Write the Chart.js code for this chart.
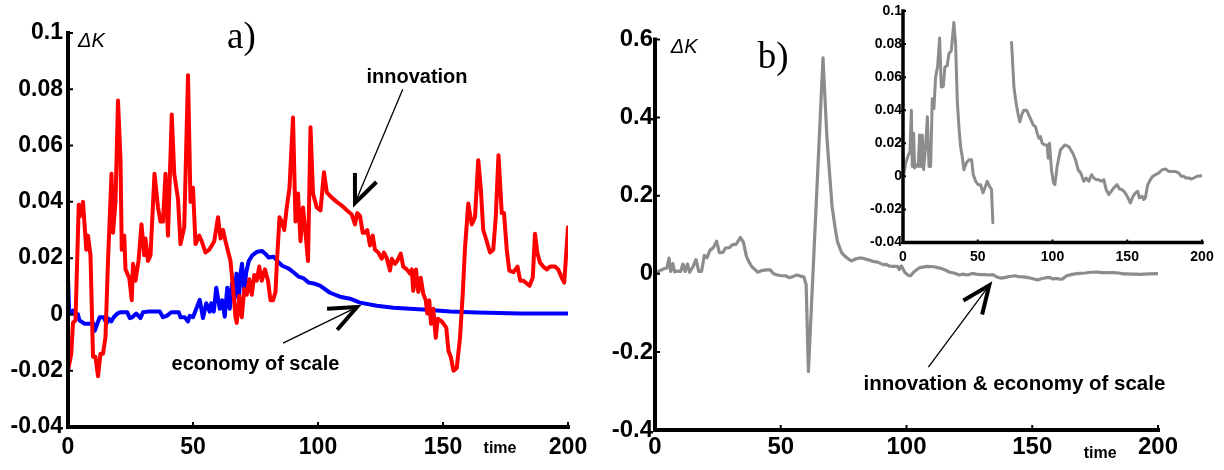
<!DOCTYPE html>
<html>
<head>
<meta charset="utf-8">
<script src="https://cdn.jsdelivr.net/npm/chart.js@4.4.1/dist/chart.umd.min.js"></script>
<style>
  html, body { margin: 0; padding: 0; background: #fff; }
  #wrap { position: relative; width: 1224px; height: 470px; overflow: hidden; }
  canvas { position: absolute; }
</style>
</head>
<body>
<div id="wrap">
  <canvas id="chartA" width="600" height="470" style="left:0;top:0"></canvas>
  <canvas id="chartB" width="624" height="470" style="left:600px;top:0"></canvas>
  <canvas id="chartInset" width="364" height="270" style="left:860px;top:0"></canvas>
</div>
<script>
// panel a) innovation (red)
const innovationTime = [0, 1.3, 2, 3, 4.3, 5, 6, 7.3, 8, 9, 10, 11, 12, 13, 14, 15, 16, 17.4, 18, 19, 20, 21, 21.5, 22.5, 23, 24.5, 25.5, 26, 27, 28.2, 29.4, 30.5, 31, 32, 33, 34.6, 36, 37, 38, 39, 40, 41.5, 42.5, 44, 45, 46.5, 48, 49, 50, 51, 52.5, 53.5, 55, 56.5, 58.5, 60, 61, 62, 63, 65, 66, 67, 67.5, 68.5, 69.5, 70.5, 71.5, 72.5, 73.5, 74.5, 75.5, 76.5, 77.5, 78.8, 80, 81, 82, 83, 83.6, 84.6, 85.5, 86.5, 87.5, 88.6, 90, 91, 92, 93, 94, 95, 96, 97, 98, 99.5, 101, 102.4, 103.5, 105.5, 107.5, 109.5, 111.5, 113.5, 114.8, 115.7, 116.8, 117.9, 118.8, 119.7, 120.8, 121.9, 122.8, 124.1, 125.5, 126.4, 127.5, 128.8, 129.5, 130.8, 131.7, 133.1, 134.1, 135.5, 136.8, 137.5, 138.1, 139.2, 140.1, 141.1, 142.1, 143.1, 143.7, 144.5, 145.2, 146.1, 147.1, 147.9, 149.5, 151.3, 152.2, 153.1, 154.2, 155.5, 156.8, 157.9, 158.8, 160.1, 161.5, 162.8, 164.1, 165.1, 166.1, 167.5, 168.8, 170.1, 171.1, 172.2, 173.5, 174.4, 175.5, 176.5, 178.2, 179.8, 180.9, 182.2, 183.5, 184.6, 185.9, 186.8, 187.7, 188.8, 190.1, 191.5, 192.8, 194.8, 196.1, 197.5, 198.5, 200];
const innovationValue = [-0.02, -0.014, -0.003, -0.002, 0.039, 0.035, 0.04, 0.023, 0.028, 0.021, -0.015, -0.015, -0.022, -0.014, -0.014, -0.008, 0.019, 0.05, 0.029, 0.04, 0.076, 0.055, 0.023, 0.028, 0.016, 0.013, 0.005, 0.018, 0.012, 0.019, 0.032, 0.021, 0.027, 0.019, 0.021, 0.05, 0.038, 0.033, 0.033, 0.05, 0.028, 0.071, 0.05, 0.041, 0.025, 0.031, 0.085, 0.04, 0.045, 0.025, 0.028, 0.026, 0.022, 0.023, 0.026, 0.0345, 0.027, 0.03, 0.026, 0.019, 0.0095, -0.001, -0.003, 0.0066, -0.001, 0.009, 0.007, 0.0125, 0.007, 0.014, 0.012, 0.017, 0.012, 0.016, 0.012, 0.005, 0.005, 0.008, 0.019, 0.0345, 0.033, 0.03, 0.038, 0.045, 0.07, 0.033, 0.043, 0.026, 0.038, 0.029, 0.019, 0.0665, 0.043, 0.038, 0.037, 0.0505, 0.0434, 0.0415, 0.04, 0.0387, 0.037, 0.0355, 0.032, 0.036, 0.035, 0.029, 0.029, 0.03, 0.0245, 0.028, 0.023, 0.022, 0.0198, 0.022, 0.02, 0.0156, 0.0198, 0.018, 0.019, 0.0216, 0.017, 0.016, 0.0145, 0.016, 0.0084, 0.016, 0.008, 0.013, 0.0074, 0.005, 0.0003, 0.005, -0.0033, 0.002, -0.0083, -0.0015, -0.0025, -0.0047, -0.013, -0.015, -0.02, -0.019, -0.0083, 0.0074, 0.0237, 0.0394, 0.032, 0.0345, 0.0548, 0.045, 0.03, 0.026, 0.022, 0.023, 0.0345, 0.0566, 0.036, 0.036, 0.023, 0.0156, 0.015, 0.017, 0.012, 0.012, 0.011, 0.0102, 0.013, 0.0287, 0.022, 0.0184, 0.017, 0.016, 0.017, 0.017, 0.016, 0.013, 0.0113, 0.031];

// panel a) economy of scale (blue)
const scaleTime = [0, 0.5, 1.5, 2, 3, 4, 4.5, 6.5, 9, 10, 10.7, 11.7, 12.7, 14.3, 15.4, 16.3, 17.3, 18.3, 19.7, 21, 23.7, 24.7, 25.7, 27.3, 29, 30, 32, 36.7, 38, 39.5, 41.3, 44.3, 45, 46.7, 48, 48.7, 50, 51.3, 52.7, 54, 55.3, 56.7, 57.3, 58.3, 59.3, 60.7, 61.7, 62.7, 63.7, 64.7, 65.6, 66.4, 67.4, 68.3, 69, 69.6, 70.5, 71.3, 72.3, 73.7, 75.7, 77.7, 79, 80.3, 82.3, 83.7, 85.7, 88.3, 90.3, 92.3, 94.3, 96.3, 98.3, 100.8, 104.8, 108.8, 112.8, 116.8, 123.5, 130.1, 136.8, 143.5, 152.8, 163.5, 180.8, 200];
const scaleValue = [0.013, 0.0003, 0.0003, 0.0014, -0.0004, 0, -0.002, -0.0033, -0.0033, -0.003, -0.0058, -0.0033, -0.001, -0.001, -0.0033, -0.0015, -0.0025, -0.001, 0.0003, 0.0008, 0.0008, -0.0013, -0.001, 0.0003, -0.0013, 0.0008, 0.001, 0.001, -0.001, -0.0005, 0.0008, 0.0008, -0.001, -0.001, -0.0025, -0.0005, -0.001, 0.002, 0.0052, -0.0013, 0.004, 0.001, 0.004, 0.001, 0.0095, 0.002, 0.005, -0.0008, 0.0095, 0.002, 0.011, 0.005, 0.0145, 0.005, 0.0145, 0.018, 0.0084, 0.015, 0.019, 0.021, 0.0223, 0.0225, 0.0215, 0.0202, 0.0205, 0.019, 0.0173, 0.0163, 0.0149, 0.0134, 0.0128, 0.0113, 0.011, 0.0102, 0.0077, 0.0063, 0.0056, 0.0042, 0.0031, 0.0024, 0.002, 0.0017, 0.001, 0.0007, 0.0003, 0.0003];

// panel b) innovation & economy of scale (grey), also shown in the inset
const bothTime = [0, 0.7, 1.8, 3.6, 4.7, 5.6, 6.2, 7.1, 7.8, 8.9, 10.2, 11.1, 12, 12.9, 13.8, 15.1, 16.3, 17.4, 18.5, 19.6, 20.7, 21.8, 23.2, 24.5, 25.6, 27, 28, 29.6, 30.7, 32.3, 34, 35.2, 36.3, 37.4, 38.5, 39.6, 40.8, 42.3, 44.1, 45.9, 47, 48.6, 50.3, 51.9, 53.5, 55.2, 56.3, 57.9, 59.2, 60.1, 61, 66.8, 68.4, 70.4, 71.6, 72.6, 73.5, 74.2, 75.7, 77.1, 78.2, 79.3, 80.8, 82.6, 84.2, 85.7, 87.1, 88.6, 89.8, 90.9, 92, 93.1, 94.9, 96.4, 97.1, 98, 99.3, 100.7, 101.6, 103.1, 105.3, 108.2, 110.9, 113.6, 115.4, 117.1, 118.9, 120.9, 122.5, 124.3, 126.1, 127.6, 129.4, 131, 132.7, 134.3, 135.9, 137.6, 139.4, 141, 143.2, 144.8, 146.5, 148.3, 149.9, 152.1, 153.9, 155.5, 157, 158.1, 159.9, 161, 162.1, 163.7, 165.5, 167, 168.8, 171, 173.3, 175.9, 177.7, 180, 182.2, 184.4, 186.2, 187.7, 189.3, 191.1, 192.9, 194.4, 196.7, 200];
const bothValue = [0.014, 0.002, 0.008, 0.013, 0.015, 0.04, 0.006, 0.026, 0.005, 0.007, 0.006, 0.025, 0.006, 0.025, 0.004, 0.018, 0.036, 0.006, 0.006, 0.047, 0.041, 0.06, 0.067, 0.0836, 0.054, 0.0545, 0.066, 0.067, 0.074, 0.076, 0.093, 0.08, 0.046, 0.03, 0.018, 0.012, 0.004, 0.008, 0.01, 0.01, 0.001, -0.003, -0.005, -0.005, -0.01, -0.006, -0.003, -0.006, -0.008, -0.028, -0.25, 0.553, 0.344, 0.173, 0.118, 0.081, 0.066, 0.054, 0.044, 0.037, 0.033, 0.037, 0.04, 0.04, 0.037, 0.034, 0.031, 0.03, 0.026, 0.023, 0.024, 0.02, 0.019, 0.019, 0.011, 0.02, 0.004, -0.004, -0.005, 0.006, 0.016, 0.019, 0.018, 0.014, 0.01, 0.004, 0.002, -0.003, -0.001, -0.003, 0.001, -0.001, -0.002, -0.002, -0.003, -0.002, -0.008, -0.011, -0.009, -0.007, -0.005, -0.0076, -0.008, -0.0096, -0.012, -0.016, -0.012, -0.01, -0.009, -0.013, -0.012, -0.014, -0.013, -0.005, -0.002, 0, 0.001, 0.002, 0.004, 0.0044, 0.003, 0.003, 0.003, 0.002, 0, 0, -0.001, -0.001, -0.0016, -0.001, 0, 0.0004];

const timeTicks = [0, 50, 100, 150, 200];
const timeTickLabels = ['0', '50', '100', '150', '200'];
const smallTicks = [-0.04, -0.02, 0, 0.02, 0.04, 0.06, 0.08, 0.1];
const smallTickLabels = ['-0.04', '-0.02', '0', '0.02', '0.04', '0.06', '0.08', '0.1'];
const bigTicks = [-0.4, -0.2, 0, 0.2, 0.4, 0.6];
const bigTickLabels = ['-0.4', '-0.2', '0', '0.2', '0.4', '0.6'];

const SANS = "'Liberation Sans', Arial, sans-serif";
const SERIF = "'Liberation Serif', 'Times New Roman', serif";

function points(ts, vs) {
    return ts.map((t, i) => ({ x: t, y: vs[i] }));
}

// inset only shows what fits in its range, the rest is a gap
function insetPoints(ts, vs) {
    return ts.map((t, i) => ({ x: t, y: (vs[i] > 0.1 || vs[i] < -0.04) ? null : vs[i] }));
}

function drawArrow(ctx, x0, y0, x1, y1) {
    ctx.lineWidth = 1.3;
    ctx.beginPath();
    ctx.moveTo(x0, y0);
    ctx.lineTo(x1, y1);
    ctx.stroke();
    const ang = Math.atan2(y0 - y1, x0 - x1);
    const len = 30, spread = 0.4;
    ctx.lineWidth = 4;
    ctx.beginPath();
    ctx.moveTo(x1 + len * Math.cos(ang + spread), y1 + len * Math.sin(ang + spread));
    ctx.lineTo(x1, y1);
    ctx.lineTo(x1 + len * Math.cos(ang - spread), y1 + len * Math.sin(ang - spread));
    ctx.stroke();
}

// axes drawn by hand: thick lines on the chart edge, short ticks pointing inward, notes and arrows
const decoPlugin = {
    id: 'deco',
    afterDatasetsDraw(chart, args, opts) {
        const { ctx, chartArea: a } = chart;
        const x = chart.scales.x, y = chart.scales.y;
        ctx.save();
        ctx.strokeStyle = '#000';
        ctx.fillStyle = '#000';
        ctx.lineWidth = opts.axisWidth;
        ctx.lineCap = 'square';
        ctx.beginPath();
        ctx.moveTo(a.left, a.top);
        ctx.lineTo(a.left, a.bottom);
        ctx.lineTo(a.right, a.bottom);
        ctx.stroke();
        ctx.lineCap = 'butt';
        ctx.lineWidth = opts.tickWidth;
        ctx.beginPath();
        x.ticks.forEach(t => {
            const px = x.getPixelForValue(t.value);
            ctx.moveTo(px, a.bottom);
            ctx.lineTo(px, a.bottom - opts.tickLen);
        });
        y.ticks.forEach(t => {
            const py = y.getPixelForValue(t.value);
            ctx.moveTo(a.left, py);
            ctx.lineTo(a.left + opts.tickLen, py);
        });
        ctx.stroke();
        (opts.notes || []).forEach(n => {
            ctx.font = n.font;
            ctx.textAlign = n.align || 'left';
            ctx.textBaseline = 'alphabetic';
            ctx.fillText(n.text, x.getPixelForValue(n.x), y.getPixelForValue(n.y));
        });
        (opts.arrows || []).forEach(ar => {
            drawArrow(ctx, x.getPixelForValue(ar.from[0]), y.getPixelForValue(ar.from[1]),
                x.getPixelForValue(ar.to[0]), y.getPixelForValue(ar.to[1]));
        });
        ctx.restore();
    }
};

function makeScales(cfg) {
    return {
        x: {
            type: 'linear', min: 0, max: 200,
            afterBuildTicks: s => { s.ticks = timeTicks.map(v => ({ value: v })); },
            afterFit: s => { s.height = cfg.xHeight; },
            ticks: {
                callback: (v, i) => timeTickLabels[i],
                font: { family: SANS, size: cfg.fontSize, weight: 'bold' },
                color: '#000', padding: cfg.xPad, maxRotation: 0, autoSkip: false
            },
            grid: { display: false, drawTicks: false },
            border: { display: false }
        },
        y: {
            type: 'linear', min: cfg.yTicks[0], max: cfg.yTicks[cfg.yTicks.length - 1],
            afterBuildTicks: s => { s.ticks = cfg.yTicks.map(v => ({ value: v })); },
            afterFit: s => { s.width = cfg.yWidth; },
            ticks: {
                callback: (v, i) => cfg.yLabels[i],
                font: { family: SANS, size: cfg.fontSize, weight: 'bold' },
                color: '#000', padding: cfg.yPad, autoSkip: false
            },
            grid: { display: false, drawTicks: false },
            border: { display: false }
        }
    };
}

function lineSet(data, color, width) {
    return {
        data: data, borderColor: color, borderWidth: width,
        pointRadius: 0, tension: 0, fill: false, spanGaps: false,
        borderJoinStyle: 'round', borderCapStyle: 'round'
    };
}

const baseOptions = {
    responsive: false, animation: false, events: [],
    plugins: { legend: { display: false }, tooltip: { enabled: false } }
};

// a)
new Chart(document.getElementById('chartA'), {
    type: 'line',
    data: {
        datasets: [
            lineSet(points(innovationTime, innovationValue), '#ff0000', 4),
            lineSet(points(scaleTime, scaleValue), '#0000ff', 4)
        ]
    },
    options: {
        ...baseOptions,
        layout: { padding: { top: 33, right: 32, left: 0, bottom: 0 } },
        scales: makeScales({ xHeight: 43, yWidth: 68, fontSize: 23, xPad: 7, yPad: 5, yTicks: smallTicks, yLabels: smallTickLabels }),
        plugins: {
            ...baseOptions.plugins,
            deco: {
                axisWidth: 4, tickWidth: 2, tickLen: 5,
                notes: [
                    { text: 'a)', x: 63.6, y: 0.0945, font: '37px ' + SERIF },
                    { text: 'ΔK', x: 4, y: 0.095, font: 'italic 20px ' + SANS },
                    { text: 'innovation', x: 139.6, y: 0.0822, font: 'bold 20px ' + SANS, align: 'center' },
                    { text: 'economy of scale', x: 75, y: -0.0197, font: 'bold 20px ' + SANS, align: 'center' },
                    { text: 'time', x: 172.8, y: -0.0492, font: 'bold 16px ' + SANS, align: 'center' }
                ],
                arrows: [
                    { from: [133.9, 0.080], to: [114.8, 0.0396] },
                    { from: [86, -0.0102], to: [115.6, 0.0026] }
                ]
            }
        }
    },
    plugins: [decoPlugin]
});

// b)
new Chart(document.getElementById('chartB'), {
    type: 'line',
    data: { datasets: [lineSet(points(bothTime, bothValue), '#8c8c8c', 3.2)] },
    options: {
        ...baseOptions,
        layout: { padding: { top: 39.5, right: 66, left: 0, bottom: 0 } },
        scales: makeScales({ xHeight: 40, yWidth: 55, fontSize: 24, xPad: 3, yPad: 2, yTicks: bigTicks, yLabels: bigTickLabels }),
        plugins: {
            ...baseOptions.plugins,
            deco: {
                axisWidth: 4, tickWidth: 2, tickLen: 5,
                notes: [
                    { text: 'b)', x: 40.9, y: 0.527, font: '37px ' + SERIF },
                    { text: 'ΔK', x: 6.3, y: 0.5655, font: 'italic 20px ' + SANS },
                    { text: 'innovation & economy of scale', x: 82.9, y: -0.298, font: 'bold 20.5px ' + SANS },
                    { text: 'time', x: 177, y: -0.4715, font: 'bold 16px ' + SANS, align: 'center' }
                ],
                arrows: [
                    { from: [108.7, -0.239], to: [132.9, -0.0296] }
                ]
            }
        }
    },
    plugins: [decoPlugin]
});

// inset of b)
new Chart(document.getElementById('chartInset'), {
    type: 'line',
    data: { datasets: [lineSet(insetPoints(bothTime, bothValue), '#8c8c8c', 3)] },
    options: {
        ...baseOptions,
        layout: { padding: { top: 11, right: 22, left: 0, bottom: 0 } },
        scales: makeScales({ xHeight: 27.5, yWidth: 43, fontSize: 14, xPad: 6, yPad: 1, yTicks: smallTicks, yLabels: smallTickLabels }),
        plugins: {
            ...baseOptions.plugins,
            deco: { axisWidth: 3.5, tickWidth: 2, tickLen: 3 }
        }
    },
    plugins: [decoPlugin]
});
</script>
</body>
</html>
